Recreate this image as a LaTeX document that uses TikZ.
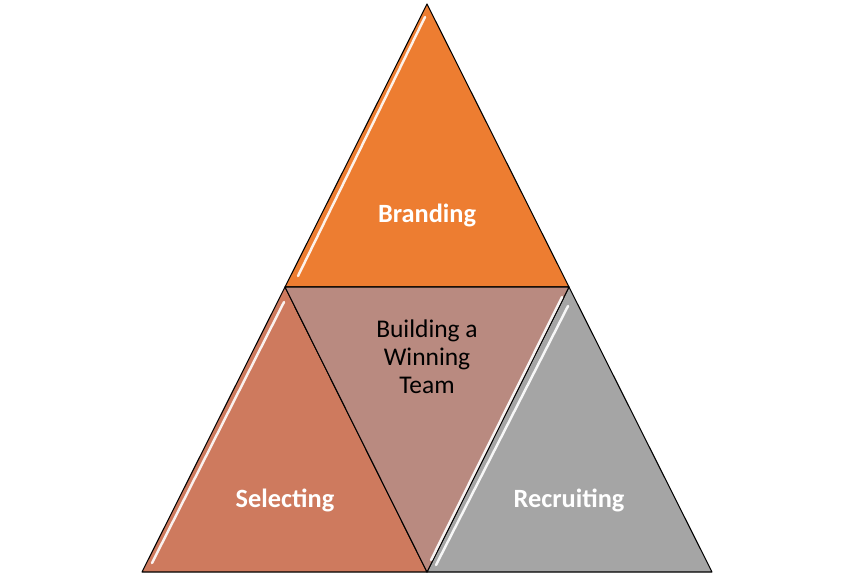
\documentclass[tikz,border=0pt]{standalone}
\usepackage{fontspec}
\setmainfont{Carlito}
\usetikzlibrary{positioning}
\definecolor{brandColor}{RGB}{237,125,49}
\definecolor{selectColor}{RGB}{206,122,94}
\definecolor{teamColor}{RGB}{185,138,128}
\definecolor{recruitColor}{RGB}{165,165,165}
\tikzstyle{pyramid} = [x = .02cm, y = -.02cm]
\tikzstyle{tileStyle} = [draw=black, line width=.6pt, line join=round]
\tikzstyle{glossStyle} = [white, line width=1.4pt, line cap=round, opacity=.9]
\tikzstyle{tileText} = [font=\fontsize{15}{18}\selectfont\bfseries, text=white]
\tikzstyle{centerText} = [font=\fontsize{14.5}{16}\selectfont, text=black, align=center]
\newcommand{\tile}[4]{\filldraw [tileStyle, fill=#4] (#1) -- (#2) -- (#3) -- cycle;}
\newcommand{\gloss}[2]{\draw [glossStyle] (#1) -- (#2);}

\begin{document}
\begin{tikzpicture}[pyramid]
  \useasboundingbox (0,0) rectangle (854,576);
  % corners of the big triangle
  \coordinate (apex) at (427,4);
  \coordinate (midLeft) at (285,287);
  \coordinate (midRight) at (569,287);
  \coordinate (baseLeft) at (142,572);
  \coordinate (baseMid) at (427,572);
  \coordinate (baseRight) at (712,572);

  \tile{apex}{midLeft}{midRight}{brandColor}
  \tile{midLeft}{baseLeft}{baseMid}{selectColor}
  \tile{midRight}{baseMid}{baseRight}{recruitColor}
  \tile{midLeft}{midRight}{baseMid}{teamColor}

  % white shine along the edges
  \coordinate (g1a) at (425,17);  \coordinate (g1b) at (298,276);
  \coordinate (g2a) at (284,302); \coordinate (g2b) at (152,563);
  \coordinate (g3a) at (562,297); \coordinate (g3b) at (431,560);
  \coordinate (g4a) at (568,306); \coordinate (g4b) at (436,565);
  \gloss{g1a}{g1b}
  \gloss{g2a}{g2b}
  \gloss{g3a}{g3b}
  \gloss{g4a}{g4b}

  \node [tileText] (branding) at (427,215) {Branding};
  \node [tileText] (selecting) at (285,500) {Selecting};
  \node [tileText] (recruiting) at (569,500) {Recruiting};
  \node [centerText] (team) at (427,357) {Building a\\Winning\\Team};
\end{tikzpicture}
\end{document}
